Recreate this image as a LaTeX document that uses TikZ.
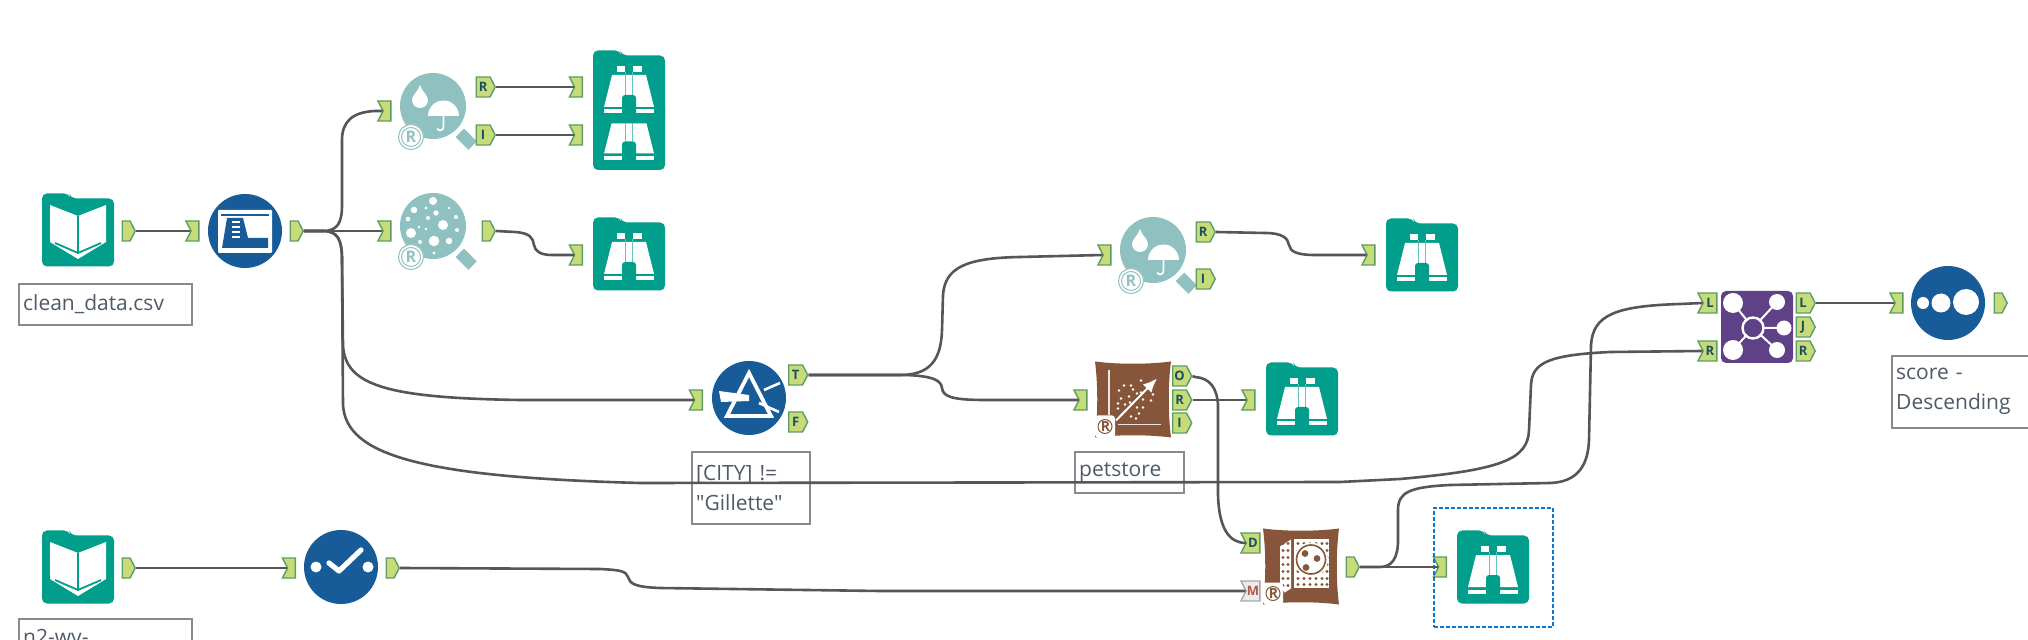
\documentclass[tikz,border=0pt]{standalone}
\usepackage{fontspec}
\setmainfont{Open Sans}
\newfontfamily\labfont{Open Sans}
\usetikzlibrary{shapes.symbols,arrows.meta}
\definecolor{tealc}{HTML}{009E8B}
\definecolor{pale}{HTML}{8EC1BF}
\definecolor{bluec}{HTML}{175C99}
\definecolor{brownc}{HTML}{86553A}
\definecolor{purplec}{HTML}{5F4187}
\definecolor{anchorfill}{HTML}{C6DC79}
\definecolor{anchoredge}{HTML}{5E9B63}
\definecolor{anchortext}{HTML}{1F4F5F}
\definecolor{wirec}{HTML}{565656}
\definecolor{labtext}{HTML}{4F5A66}
\definecolor{labedge}{HTML}{8A8A8A}
\definecolor{selc}{HTML}{0A78D2}
\tikzset{
  outanchor/.style={signal,signal to=east,signal from=nowhere,signal pointer angle=125,xshift=-1.2pt,
    minimum width=#1,minimum height=10pt,inner sep=0pt,fill=anchorfill,draw=anchoredge,line width=.7pt,
    text=anchortext,font=\fontsize{6.5}{7}\selectfont\bfseries},
  outanchor/.default=6.5pt,
  inanchor/.style={signal,signal from=west,signal to=nowhere,signal pointer angle=125,
    minimum width=#1,minimum height=10pt,inner sep=0pt,fill=anchorfill,draw=anchoredge,line width=.7pt,
    text=anchortext,font=\fontsize{6.5}{7}\selectfont\bfseries},
  inanchor/.default=6.5pt,
  wire/.style={draw=wirec,line width=1.3pt},
  lab/.style={rectangle,anchor=north west,draw=labedge,line width=.8pt,fill=white,text=labtext,
    align=left,inner xsep=2.2pt,inner ysep=0pt,font=\labfont\fontsize{10.5}{15}\selectfont},
  roundtool/.style={circle,fill=bluec,minimum size=37pt,inner sep=0pt},
  ghost/.style={rectangle,minimum width=36pt,minimum height=37pt,inner sep=0pt},
}
\newcommand{\FolderBody}{%
  \fill[tealc,rounded corners=2.5pt] (-36,-36.5) -- (-9,-36.5) -- (-7,-31.5) -- (36,-31.5) -- (36,36.5) -- (-36,36.5) -- cycle;}
\newcommand{\ToolBook}[3]{%
  \begin{scope}[shift={(#2,#3)}]
    \FolderBody
    \fill[white] (-28,-25) -- (0,-14) -- (28,-25) -- (28,12) -- (0,29) -- (-28,12) -- cycle;
    \draw[tealc,line width=.8pt] (0,-14) -- (0,22);
    \draw[tealc,line width=.9pt] (-23,13) -- (0,23) -- (23,13);
  \end{scope}
  \node[ghost] (#1) at (#2,#3) {};}
\newcommand{\ToolBino}[3]{%
  \begin{scope}[shift={(#2,#3)}]
    \FolderBody
    \fill[white] (-12,-21) rectangle (-4,-15);
    \fill[white] (4,-21) rectangle (13,-15);
    \fill[white] (-17,-12) -- (17,-12) -- (25,20) -- (-25,20) -- cycle;
    \fill[white] (-25,22.5) rectangle (-7,26.5);
    \fill[white] (7,22.5) rectangle (25,26.5);
    \draw[tealc!60!white,line width=.4pt] (-3.5,-15) -- (-3.5,8);
    \draw[tealc!60!white,line width=.4pt] (3.5,-15) -- (3.5,8);
    \fill[tealc,rounded corners=1.5pt] (-7,8) rectangle (7,29);
  \end{scope}
  \node[ghost] (#1) at (#2,#3) {};}
\newcommand{\RBadge}[3]{%
  \fill[white] (#1,#2) circle[radius=13];
  \draw[#3,line width=.5pt] (#1,#2) circle[radius=12.5];
  \draw[#3,line width=.5pt] (#1,#2) circle[radius=9.5];
  \node[text=#3,font=\fontsize{8}{8}\selectfont\bfseries,inner sep=0pt] at (#1,#2) {R};}
\newcommand{\MagBase}{%
  \fill[pale,rotate=-45] (38,-6) rectangle (56,6);
  \fill[pale] (0,0) circle[radius=33];}
\newcommand{\ToolUmb}[3]{%
  \begin{scope}[shift={(#2,#3)}]
    \MagBase
    \fill[white] (-13,-21) .. controls (-15,-14) and (-21,-11) .. (-21,-6) arc[start angle=180,end angle=0,radius=8] .. controls (-5,-11) and (-11,-14) .. (-13,-21) -- cycle;
    \fill[white] (-5,10) arc[start angle=180,end angle=360,radius=15.5] -- cycle;
    \draw[white,line width=.9pt] (10.5,8) -- (10.5,21) arc[start angle=0,end angle=150,radius=3.5];
    \RBadge{-22}{31}{pale}
  \end{scope}
  \node[circle,minimum size=33pt,inner sep=0pt] (#1) at (#2,#3) {};}
\newcommand{\ToolCluster}[3]{%
  \begin{scope}[shift={(#2,#3)}]
    \MagBase
    \foreach \dx/\dy/\dr in {0/-25/4,-19/-16/3.3,-7/-18/1.7,3/-13/2.7,16/-18/1.3,23/-9/2,-25/-7/2.3,-5/-8/2,10/-1/5,-22/7/5,-14/1/1.3,-7/3/1.3,24/4/2,1/15/5.3,16/15/3.3,-13/16/2,1/27/1.7}
      \fill[white] (\dx,\dy) circle[radius=\dr];
    \RBadge{-22}{31}{pale}
  \end{scope}
  \node[circle,minimum size=33pt,inner sep=0pt] (#1) at (#2,#3) {};}
\newcommand{\BrownBase}{%
  \fill[brownc] (-38,-38) .. controls (-15,-35) and (15,-35) .. (38,-38) .. controls (35,-15) and (35,15) .. (38,38) .. controls (15,35) and (-15,35) .. (-38,38) .. controls (-35,15) and (-35,-15) .. (-38,-38) -- cycle;}
\newcommand{\BrownBadge}{%
  \fill[white,rounded corners=1.5pt] (-38,16) rectangle (-18,38);
  \draw[brownc,line width=.5pt] (-28,27) circle[radius=7];
  \node[text=brownc,font=\fontsize{7}{7}\selectfont\bfseries,inner sep=0pt] at (-27.5,27) {R};}

\begin{document}
\begin{tikzpicture}[x=.5pt,y=-.5pt]
\useasboundingbox (0,0) rectangle (2028,640);
\clip (0,0) rectangle (2028,640);
\fill[white] (0,0) rectangle (2028,640);

% labels (the wires run over them)
\node[lab,text width=82.1pt,minimum height=20.5pt] (labclean) at (18,283) {clean\_data.csv};
\node[lab,text width=82.1pt,minimum height=20.5pt] (labntwo) at (18,618) {n2-wy-};
\node[lab,text width=54.6pt,minimum height=36pt] (labfilter) at (691,451) {[CITY] !=\\"Gillette"};
\node[lab,text width=50.1pt,minimum height=20.5pt] (labpet) at (1074,451) {petstore};
\node[lab,text width=80pt,minimum height=36pt] (labsort) at (1891,355) {score -\\Descending};

% folder tools
\ToolBook{bookone}{78}{230}
\ToolBook{booktwo}{78}{567}
\ToolBino{browseb}{629}{133.5}
\ToolBino{browsea}{629}{87}
\ToolBino{browsec}{629}{254}
\ToolBino{browsed}{1422}{255}
\ToolBino{browsee}{1302}{399}
\ToolBino{browsef}{1493}{567}

% select tool
\node[roundtool] (clean) at (245,231) {};
\begin{scope}[shift={(245,231)}]
  \fill[white,rounded corners=.5pt] (-27,-21) rectangle (27,22);
  \fill[bluec] (-24,-17) rectangle (24,-15);
  \fill[bluec] (-18,-13) -- (-2,-13) -- (3,7) -- (23,7) -- (23,17) -- (-23,17) -- cycle;
  \foreach \yy in {-9,-4,1,6} \draw[white,line width=.7pt] (-13,\yy) -- (-5,\yy);
\end{scope}

% check tool
\node[roundtool] (check) at (341,567) {};
\begin{scope}[shift={(341,567)}]
  \fill[white] (-25,0) circle[radius=5.5];
  \fill[white] (27,0) circle[radius=5.5];
  \draw[white,line width=2.6pt,line cap=round,line join=round] (-12,-4) -- (-2,4) -- (20,-17);
\end{scope}

% filter tool
\node[roundtool] (filter) at (749,398) {};
\begin{scope}[shift={(749,398)}]
  \fill[white] (-30,-7) -- (0,-3) -- (0,3) -- (-28,4) -- cycle;
  \draw[white,line width=1.9pt,line join=miter] (0,-25) -- (-22,18) -- (22,18) -- cycle;
  \draw[white,line width=1.3pt] (15,-8) -- (31,-15);
  \draw[white,line width=1.3pt] (10,5) -- (30,14);
\end{scope}

% sort tool
\node[roundtool] (sort) at (1948,303) {};
\fill[white] (1923,303) circle[radius=6];
\fill[white] (1941,303) circle[radius=9.5];
\fill[white] (1966,302) circle[radius=13];

% umbrella and cluster tools
\ToolUmb{umbone}{433}{106}
\ToolCluster{cluster}{433}{226}
\ToolUmb{umbtwo}{1153}{250}

% forest tool
\begin{scope}[shift={(1133,399.5)}]
  \BrownBase
  \draw[white!85!brownc,line width=.9pt] (-24,-29) -- (-24,16);
  \draw[white!85!brownc,line width=.9pt] (-15,25) -- (28,25);
  \draw[white,line width=1pt,-{Latex[length=7pt,width=6pt]}] (-17,21) -- (24,-21);
  \foreach \dx/\dy in {-9/-14,-14/-9,-2/-14,8/-7,4/-6,10/0,-12/-1,-15/4,-15/9,-8/12,-3/3,4/8,14/-13,8/-19,20/-5,18/1,6/14,-2/17,3/19,-8/5,-4/-3,10/8,0/-10}
    \fill[white] (\dx,\dy) circle[radius=1.3];
  \BrownBadge
\end{scope}
\node[rectangle,minimum width=37pt,minimum height=37.5pt,inner sep=0pt] (forest) at (1133,399.5) {};

% score tool
\begin{scope}[shift={(1301,566.5)}]
  \BrownBase
  \fill[white] (-21,-20) -- (-10,-27) -- (-10,22) -- (-21,29) -- cycle;
  \fill[white] (-7,-27) rectangle (28,21);
  \foreach \yy in {-23,-16,-9,-2,5,12,19,26} \foreach \xx in {-18,-13}
    \fill[brownc] (\xx,\yy) circle[radius=1.7];
  \foreach \yy in {-23,-16,-9,-2,5,12,18} \foreach \xx in {-3,3,9,15,21,26}
    \fill[brownc] (\xx,\yy) circle[radius=1.7];
  \fill[white] (10,-7) circle[radius=17];
  \draw[brownc,line width=.8pt] (10,-7) circle[radius=14.5];
  \fill[brownc] (4,-13) circle[radius=3.4];
  \fill[brownc] (16,-8) circle[radius=3.4];
  \fill[brownc] (5,1) circle[radius=3.4];
  \BrownBadge
\end{scope}
\node[rectangle,minimum width=37pt,minimum height=37.5pt,inner sep=0pt] (score) at (1301,566.5) {};

% join tool
\node[rectangle,rounded corners=2.5pt,fill=purplec,minimum width=36pt,minimum height=36pt,inner sep=0pt] (join) at (1757,327) {};
\begin{scope}
  \draw[white,line width=1pt] (1753,328) -- (1733,303) (1753,328) -- (1777,302) (1753,328) -- (1784,328) (1753,328) -- (1733,350) (1753,328) -- (1777,350);
  \fill[purplec] (1753,328) circle[radius=9];
  \draw[white,line width=1.2pt] (1753,328) circle[radius=10.5];
  \fill[white] (1733,303) circle[radius=10];
  \fill[white] (1777,302) circle[radius=8];
  \fill[white] (1784,328) circle[radius=7.5];
  \fill[white] (1733,350) circle[radius=10];
  \fill[white] (1777,350) circle[radius=8];
\end{scope}

% anchors
\node[outanchor] (bookoneo) at (128.5,231) {};
\node[inanchor] (cleani) at (195,231) {};
\node[outanchor] (cleano) at (296.5,231) {};
\node[outanchor] (booktwoo) at (128.5,568) {};
\node[inanchor] (checki) at (291.5,568) {};
\node[outanchor] (checko) at (392.5,568) {};
\node[inanchor] (umboni) at (387,111) {};
\node[outanchor=9.5pt] (umboner) at (485.5,87) {R};
\node[outanchor=9.5pt] (umbonei) at (485.5,135) {I};
\node[inanchor] (clusteri) at (387,231) {};
\node[outanchor] (clustero) at (488.5,231) {};
\node[inanchor] (browseai) at (578.5,87) {};
\node[inanchor] (browsebi) at (578.5,135) {};
\node[inanchor] (browseci) at (578.5,255) {};
\node[inanchor] (filteri) at (698.5,400) {};
\node[outanchor=9.5pt] (filtert) at (798,375) {T};
\node[outanchor=9.5pt] (filterf) at (798,422) {F};
\node[inanchor] (umbtwoi) at (1107,255) {};
\node[outanchor=9.5pt] (umbtwor) at (1205.5,232) {R};
\node[outanchor=9.5pt] (umbtwoi2) at (1205.5,279) {I};
\node[inanchor] (browsedi) at (1371,255) {};
\node[inanchor] (foresti) at (1083,400) {};
\node[outanchor=9.5pt] (foresto) at (1182,376) {O};
\node[outanchor=9.5pt] (forestr) at (1182,400) {R};
\node[outanchor=9.5pt] (foresti2) at (1182,423) {I};
\node[inanchor] (browseei) at (1251,400) {};
\node[inanchor=9.5pt] (scored) at (1253,543) {D};
\node[inanchor=9.5pt,fill=black!8,draw=black!35,text=orange!70!blue] (scorem) at (1253,591) {M};
\node[outanchor] (scoreo) at (1352.5,567) {};
\node[inanchor] (browsefi) at (1442.5,567) {};
\node[inanchor=9.5pt] (joinl) at (1710,303) {L};
\node[inanchor=9.5pt] (joinr) at (1710,351) {R};
\node[outanchor=9.5pt] (joinol) at (1805.5,303) {L};
\node[outanchor=9.5pt] (joinoj) at (1805.5,327) {J};
\node[outanchor=9.5pt] (joinor) at (1805.5,351) {R};
\node[inanchor] (sorti) at (1899,303) {};
\node[outanchor] (sorto) at (2000.5,303) {};

% selection frame
\node[rectangle,draw=selc,line width=.8pt,dash pattern=on 2pt off 1pt,minimum width=59.5pt,minimum height=59.5pt,inner sep=0pt] (selframe) at (1493.5,567.5) {};

% connectors
\draw[wire] (bookoneo.east) -- (cleani.west);
\draw[wire] (cleano.east) -- (clusteri.west);
\draw[wire] (cleano.east) -- (323,231) .. controls (338,231) and (342,222) .. (342,205) -- (342,140) .. controls (342,122) and (352,112) .. (375,111) -- (umboni.west);
\draw[wire] (cleano.east) -- (323,231) .. controls (338,231) and (342,240) .. (342,260) -- (343,345) .. controls (345,385) and (385,398) .. (520,400) -- (filteri.west);
\draw[wire] (cleano.east) -- (323,231) .. controls (338,231) and (342,240) .. (342,260) -- (343,405) .. controls (346,455) and (420,477) .. (640,483) -- (1340,482) -- (1400,479) .. controls (1500,470) and (1528,460) .. (1529,430) -- (1531,385) .. controls (1532,362) and (1550,355) .. (1610,352) -- (joinr.west);
\draw[wire] (umboner.east) -- (browseai.west);
\draw[wire] (umbonei.east) -- (browsebi.west);
\draw[wire] (clustero.east) -- (515,232) .. controls (530,233) and (533,238) .. (534,245) .. controls (535,251) and (540,255) .. (552,255) -- (browseci.west);
\draw[wire] (filtert.east) -- (900,375) .. controls (930,375) and (941,360) .. (942,330) -- (943,295) .. controls (945,268) and (965,258) .. (1020,257) -- (umbtwoi.west);
\draw[wire] (filtert.east) -- (905,375) .. controls (935,376) and (941,381) .. (942,388) .. controls (943,396) and (950,400) .. (985,400) -- (foresti.west);
\draw[wire] (umbtwor.east) -- (1265,233) .. controls (1282,233) and (1288,238) .. (1289,245) .. controls (1290,252) and (1298,255) .. (1315,255) -- (browsedi.west);
\draw[wire] (foresto.east) -- (1195,377) .. controls (1210,378) and (1217,388) .. (1218,405) -- (1218,495) .. controls (1219,530) and (1230,543) .. (1246,543) -- (scored.west);
\draw[wire] (forestr.east) -- (browseei.west);
\draw[wire] (booktwoo.east) -- (checki.west);
\draw[wire] (checko.east) -- (600,569) .. controls (620,570) and (626,571) .. (628,577) .. controls (630,584) and (635,587) .. (660,588) -- (880,591) -- (scorem.west);
\draw[wire] (scoreo.east) -- (browsefi.west);
\draw[wire] (scoreo.east) -- (1380,567) .. controls (1392,567) and (1398,558) .. (1398,540) -- (1398,510) .. controls (1398,492) and (1410,487) .. (1450,485) -- (1550,483) .. controls (1578,482) and (1588,465) .. (1589,440) -- (1591,345) .. controls (1593,315) and (1615,306) .. (1680,304) -- (joinl.west);
\draw[wire] (joinol.east) -- (sorti.west);
\end{tikzpicture}
\end{document}
